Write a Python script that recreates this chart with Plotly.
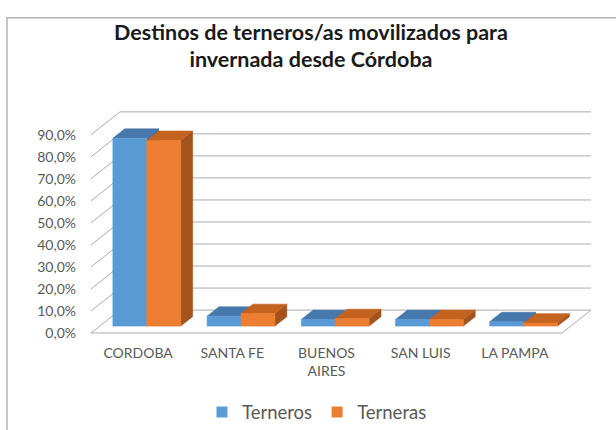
import plotly.graph_objects as go

# ---------------- data ----------------
categories = ["CORDOBA", "SANTA FE", "BUENOS<br>AIRES", "SAN LUIS", "LA PAMPA"]
terneros = [85.3, 4.5, 3.0, 3.0, 2.0]
terneras = [84.3, 5.7, 3.4, 3.0, 1.4]
series_names = ["Terneros", "Terneras"]
y_ticks = [0, 10, 20, 30, 40, 50, 60, 70, 80, 90]
y_tick_labels = ["0,0%", "10,0%", "20,0%", "30,0%", "40,0%", "50,0%",
                 "60,0%", "70,0%", "80,0%", "90,0%"]

# ---------------- style / 3D geometry ----------------
KY = 430 / 444           # observed vertical scale of the captured page


def vy(px):
    """target pixel row in the photo -> pixel row in the figure"""
    return px / KY


W_FIG, H_FIG = 616, 444
M_L = 91
PLOT_W = 500
M_T = round(vy(100))
PLOT_BOTTOM = round(vy(336))
PLOT_H = PLOT_BOTTOM - M_T
M_R = W_FIG - M_L - PLOT_W
M_B = H_FIG - PLOT_BOTTOM
PX_X = 94.2            # px per category (front plane)
PX_Y = vy(2.215)       # px per percentage point
DX = 29 / 94.2         # depth offset of back wall (category units)
DY = 23 / 2.215        # depth offset of back wall (percent units)
FRONT = 0.30           # fraction of depth where bars start
DEPTH = 0.41           # bar depth as fraction of depth
BAR_W = 0.36           # bar width in category units
ZERO_PX = vy(331)      # pixel row of front 0%

x_min = -0.5
x_max = x_min + PLOT_W / PX_X
y_min = -(PLOT_BOTTOM - ZERO_PX) / PX_Y
y_max = (ZERO_PX - M_T) / PX_Y

face_colors = [
    {"front": "#5B9BD5", "top": "#4778AB", "side": "#3E6A98"},
    {"front": "#ED7D31", "top": "#C4621F", "side": "#A3531C"},
]
grid_color = "#ABABAB"
text_color = "#595959"
FONT = "Lato"

n = len(categories)
x_left, x_right = -0.5, n - 0.5

fig = go.Figure()

# walls / floor gridlines
gx, gy = [], []
for v in y_ticks:
    gx += [x_left, x_left + DX, None]
    gy += [v, v + DY, None]
    gx += [x_left + DX, x_right + DX, None]
    gy += [v + DY, v + DY, None]
gx += [x_left, x_right, x_right + DX, None]
gy += [0, 0, DY, None]
fig.add_trace(go.Scatter(x=gx, y=gy, mode="lines", line=dict(color=grid_color, width=1),
                         hoverinfo="skip", showlegend=False, cliponaxis=False))

# 3D bars
base = FRONT * DY
ddx, ddy = DEPTH * DX, DEPTH * DY
for s, values in enumerate([terneros, terneras]):
    faces = {"side": ([], []), "top": ([], []), "front": ([], [])}
    for i, v in enumerate(values):
        x0 = i - BAR_W + s * BAR_W + FRONT * DX
        x1 = x0 + BAR_W
        t = base + v
        fx, fy = faces["front"]
        fx += [x0, x1, x1, x0, x0, None]
        fy += [base, base, t, t, base, None]
        tx, ty = faces["top"]
        tx += [x0, x1, x1 + ddx, x0 + ddx, x0, None]
        ty += [t, t, t + ddy, t + ddy, t, None]
        sx, sy = faces["side"]
        sx += [x1, x1 + ddx, x1 + ddx, x1, x1, None]
        sy += [base, base + ddy, t + ddy, t, base, None]
    for face in ["side", "top", "front"]:
        xs, ys = faces[face]
        c = face_colors[s][face]
        fig.add_trace(go.Scatter(x=xs, y=ys, mode="lines", fill="toself", fillcolor=c,
                                 line=dict(color=c, width=0.6), hoverinfo="skip",
                                 showlegend=False, legendgroup=series_names[s]))
    fig.add_trace(go.Scatter(x=[None], y=[None], mode="markers", name=series_names[s],
                             legendgroup=series_names[s],
                             marker=dict(symbol="square", size=11, color=face_colors[s]["front"])))

# outer chart frame (extends past the right and bottom edges)
fig.add_shape(type="rect", xref="paper", yref="paper",
              x0=(7 - M_L) / PLOT_W, x1=(W_FIG + 20 - M_L) / PLOT_W,
              y0=(PLOT_BOTTOM - vy(14)) / PLOT_H, y1=(PLOT_BOTTOM - (H_FIG + 20)) / PLOT_H,
              line=dict(color="#B4B4B4", width=1.5), layer="below")

fig.update_layout(
    width=W_FIG, height=H_FIG, autosize=False,
    margin=dict(l=M_L, r=M_R, t=M_T, b=M_B),
    paper_bgcolor="white", plot_bgcolor="white",
    font=dict(family=FONT, color=text_color),
    title=dict(text="Destinos de terneros/as movilizados para<br>invernada desde Córdoba",
               x=311 / W_FIG, xref="container", xanchor="center",
               y=1 - 39.5 / H_FIG, yref="container", yanchor="top",
               font=dict(family=FONT, size=21.5, color="#1A1A1A", weight="bold")),
    xaxis=dict(range=[x_min, x_max], tickvals=list(range(n)), ticktext=categories,
               showgrid=False, zeroline=False, showline=False, ticks="",
               tickfont=dict(size=14, color=text_color), ticklabelstandoff=5,
               fixedrange=True),
    yaxis=dict(range=[y_min, y_max], tickvals=y_ticks, ticktext=y_tick_labels,
               showgrid=False, zeroline=False, showline=False, ticks="",
               tickfont=dict(size=14, color=text_color), ticklabelstandoff=14,
               fixedrange=True),
    legend=dict(orientation="h", xanchor="center", yanchor="middle",
                x=(317 - M_L) / PLOT_W, y=(PLOT_BOTTOM - vy(411)) / PLOT_H,
                font=dict(size=18.5, color=text_color), bgcolor="rgba(0,0,0,0)"),
    showlegend=True,
)

# page body without default margin so the figure starts at the window corner
fig.write_html("out.html", config={"displayModeBar": False},
               post_script="document.body.style.margin='0';document.body.style.overflow='hidden';")
